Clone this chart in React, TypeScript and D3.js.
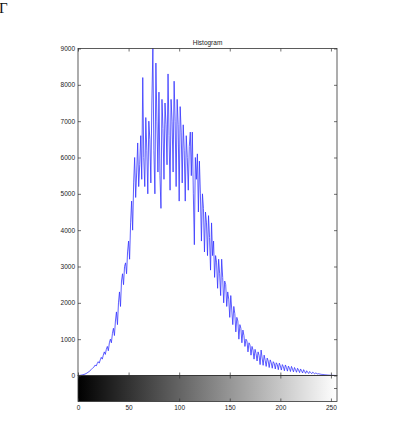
import React, { useEffect, useRef } from "react";
import * as d3 from "d3";

// 256-bin grey-level histogram
const counts = [
  0, 2, 5, 10, 15, 22, 30, 40, 55, 70, 90, 110, 135, 160, 190, 220,
  240, 290, 260, 330, 380, 340, 430, 500, 450, 560, 650, 580, 720, 800, 680, 900,
  1000, 900, 1150, 1300, 1100, 1500, 1750, 1400, 2000, 2300, 1900, 2600, 2800, 2500, 3000, 3100,
  2800, 3400, 3700, 3200, 4200, 4800, 4000, 5300, 6000, 4900, 5600, 6400, 5200, 5800, 6600, 5400,
  8200, 6000, 5200, 7100, 6200, 5000, 7000, 6500, 5300, 7500, 9000, 6200, 5000, 8600, 7000, 5600,
  7800, 5500, 4600, 7600, 6800, 5400, 7500, 6900, 5800, 8300, 6600, 5100, 7600, 7000, 5600, 8100,
  7000, 5200, 7600, 6900, 4800, 7400, 6700, 5300, 6900, 6200, 4800, 6600, 6000, 5100, 6300, 6700,
  5500, 6700, 5000, 3600, 6000, 5400, 6100, 4500, 5900, 5000, 3700, 5000, 4600, 3400, 4500, 4200,
  3300, 4400, 3800, 2900, 4200, 3300, 3700, 2700, 3300, 3100, 2400, 3200, 2800, 2200, 3200, 2700,
  2000, 2600, 2500, 1900, 2300, 2100, 1600, 2200, 1800, 1400, 1900, 1700, 1200, 1600, 1500, 1000,
  1400, 1300, 900, 1250, 1100, 800, 1000, 950, 650, 900, 840, 560, 800, 700, 450, 720,
  600, 400, 650, 550, 300, 700, 480, 280, 560, 420, 250, 480, 400, 220, 430, 350,
  200, 380, 330, 180, 350, 300, 160, 340, 260, 150, 300, 240, 130, 290, 220, 120,
  260, 200, 110, 250, 180, 100, 220, 160, 90, 200, 150, 80, 180, 130, 70, 160,
  110, 60, 130, 90, 55, 110, 80, 50, 90, 70, 45, 70, 55, 40, 50, 40,
  35, 30, 28, 25, 20, 18, 15, 12, 10, 8, 6, 5, 4, 3, 2, 1,
];
const yTicks = [0, 1000, 2000, 3000, 4000, 5000, 6000, 7000, 8000, 9000];
const xTicks = [0, 50, 100, 150, 200, 250];
const title = "Histogram";
const cornerMark = "Г";

const font = "'Liberation Sans', Arial, sans-serif";

export default function App() {
  const ref = useRef<SVGSVGElement>(null);

  useEffect(() => {
    const svg = d3.select(ref.current);
    svg.selectAll("*").remove();

    const left = 78, right = 337, top = 48.5, bottom = 375.5, barBottom = 401.5;
    const x = d3.scaleLinear().domain([0, 256]).range([left, right]);
    const y = d3.scaleLinear().domain([0, 9000]).range([bottom, top]);
    const plain = d3.format("d");

    // grey ramp under the plot
    const grad = svg.append("defs").append("linearGradient").attr("id", "ramp");
    grad.append("stop").attr("offset", "0%").attr("stop-color", "#000");
    grad.append("stop").attr("offset", "100%").attr("stop-color", "#fff");
    svg.append("rect")
      .attr("x", left).attr("y", bottom)
      .attr("width", right - left).attr("height", barBottom - bottom)
      .attr("fill", "url(#ramp)");

    const line = d3.line<number>()
      .x((d, i) => x(i))
      .y(d => y(d));
    svg.append("path")
      .datum(counts)
      .attr("d", line)
      .attr("fill", "none")
      .attr("stroke", "#3535ff")
      .attr("stroke-width", 0.8);

    const style = (g: any) => {
      g.select(".domain").remove();
      g.selectAll("line").attr("stroke", "#333").attr("stroke-width", 0.7);
      g.selectAll("text").attr("font-family", font).attr("font-size", 6.5).attr("fill", "#222");
    };

    svg.append("g").attr("transform", `translate(${left},0)`)
      .call(d3.axisLeft(y).tickValues(yTicks).tickFormat(plain).tickSizeInner(-3).tickSizeOuter(0).tickPadding(3))
      .call(style);
    svg.append("g").attr("transform", `translate(${right},0)`)
      .call(d3.axisRight(y).tickValues(yTicks).tickSizeInner(-3).tickSizeOuter(0).tickFormat(() => ""))
      .call(style);
    svg.append("g").attr("transform", `translate(0,${top})`)
      .call(d3.axisTop(x).tickValues(xTicks).tickSizeInner(-3).tickSizeOuter(0).tickFormat(() => ""))
      .call(style);
    svg.append("g").attr("transform", `translate(0,${bottom})`)
      .call(d3.axisBottom(x).tickValues(xTicks).tickSizeInner(-3).tickSizeOuter(0).tickFormat(() => ""))
      .call(style);
    // ramp axes
    svg.append("g").attr("transform", `translate(0,${bottom})`)
      .call(d3.axisTop(x).tickValues(xTicks).tickSizeInner(-3).tickSizeOuter(0).tickFormat(() => ""))
      .call(style);
    svg.append("g").attr("transform", `translate(0,${barBottom})`)
      .call(d3.axisBottom(x).tickValues(xTicks).tickFormat(plain).tickSizeInner(-3).tickSizeOuter(0).tickPadding(4))
      .call(style);

    const mid = (bottom + barBottom) / 2;
    svg.append("line")
      .attr("x1", right - 3).attr("x2", right).attr("y1", mid).attr("y2", mid)
      .attr("stroke", "#333").attr("stroke-width", 0.7);

    svg.append("rect")
      .attr("x", left).attr("y", top)
      .attr("width", right - left).attr("height", bottom - top)
      .attr("fill", "none").attr("stroke", "#333").attr("stroke-width", 0.8);
    svg.append("rect")
      .attr("x", left).attr("y", bottom)
      .attr("width", right - left).attr("height", barBottom - bottom)
      .attr("fill", "none").attr("stroke", "#333").attr("stroke-width", 0.8);

    svg.append("text")
      .attr("x", (left + right) / 2).attr("y", 44.5)
      .attr("text-anchor", "middle")
      .attr("font-family", font).attr("font-size", 6.5).attr("fill", "#222")
      .text(title);

    svg.append("text")
      .attr("x", -1).attr("y", 13)
      .attr("font-family", "'Liberation Serif', 'DejaVu Serif', serif")
      .attr("font-size", 15).attr("fill", "#111")
      .text(cornerMark);
  }, []);

  return (
    <svg
      ref={ref}
      width={410}
      height={427}
      style={{ position: "absolute", left: 0, top: 0, background: "#fff" }}
    />
  );
}
